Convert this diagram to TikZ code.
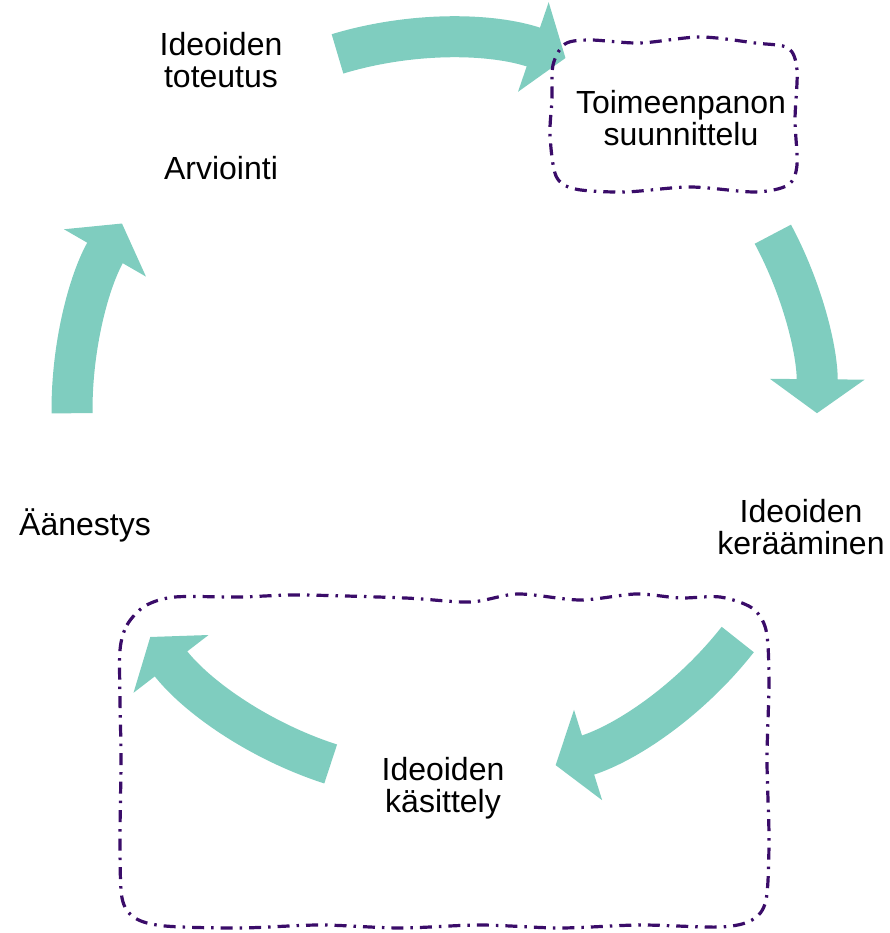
\documentclass[tikz,border=0pt]{standalone}
\usepackage{fontspec}
\setmainfont{Liberation Sans}
\usepackage{xcolor}
\usetikzlibrary{arrows.meta}
\definecolor{cycleteal}{RGB}{127,205,191}
\definecolor{boxpurple}{RGB}{58,12,105}

\begin{document}
\begin{tikzpicture}[x=1pt,y=1pt,
    label node/.style={align=center,font=\fontsize{32}{32}\selectfont},
    cycle arrow/.style={color=cycleteal,line width=41pt,-{Triangle[width=93pt,length=34pt]}},
    wavy box/.style={draw=boxpurple,line width=3.2pt,dash pattern=on 12pt off 7pt on 2.5pt off 7pt}]

                    \useasboundingbox (0,0) rectangle (889,933);
                    \coordinate (c) at (445,523);

                    % cycle
                    \draw[cycle arrow] (c) ++(106.8:372) arc[start angle=106.8, end angle=71.1, radius=372];
                    \draw[cycle arrow] (c) ++(28.2:372) arc[start angle=28.2, end angle=-0.5, radius=372];
                    \draw[cycle arrow] (c) ++(-38.1:372) arc[start angle=-38.1, end angle=-72.7, radius=372];
                    \draw[cycle arrow] (c) ++(-107.9:372) arc[start angle=-107.9, end angle=-142.4, radius=372];
                    \draw[cycle arrow] (c) ++(180.5:373) arc[start angle=180.5, end angle=150, radius=373];

                    % hand drawn boxes
                    \draw[wavy box] plot[smooth cycle, tension=0.5] coordinates {
                        (553,868) (565,889) (590,893) (640,890) (700,896) (755,890) (788,885) (797,863)
                        (795,813) (797,768) (788,748) (755,741) (690,746) (625,741) (575,744) (556,757)
                        (550,798) (552,833)};
                    \draw[wavy box] plot[smooth cycle, tension=0.5] coordinates {
                        (120,283) (127,308) (145,327) (175,336) (240,336) (300,338) (405,335) (470,331)
                        (518,339) (580,333) (636,339) (680,335) (720,336) (752,325) (766,303) (769,253)
                        (767,173) (769,93) (766,33) (752,13) (720,6) (640,8) (560,5) (480,8) (400,5)
                        (320,8) (240,5) (165,7) (135,15) (122,35) (120,93) (121,173) (120,233)};

                    % steps
                    \node[label node] (plan) at (681,815) {Toimeenpanon\\suunnittelu};
                    \node[label node] (collect) at (801,406) {Ideoiden\\kerääminen};
                    \node[label node] (handle) at (443,145) {Ideoiden\\käsittely};
                    \node[label node] (vote) at (85,408) {Äänestys};
                    \node[label node] (eval) at (221,765) {Arviointi};
                    \node[label node] (realize) at (221,873) {Ideoiden\\toteutus};

                    ;
                \end{tikzpicture}
\end{document}
